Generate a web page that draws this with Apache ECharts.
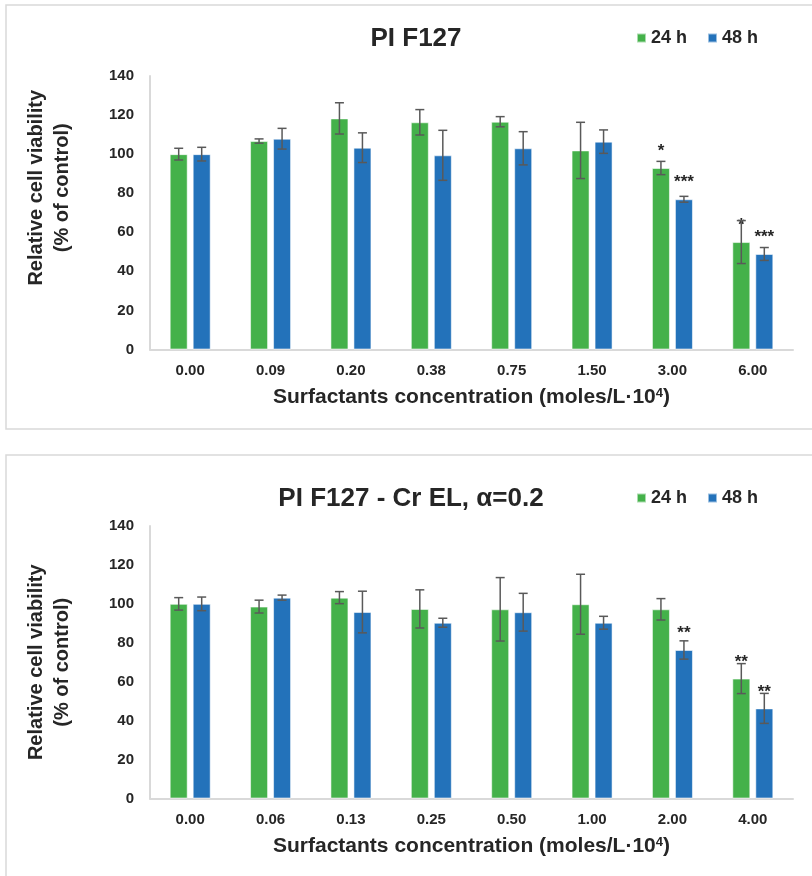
<!DOCTYPE html>
<html>
<head>
<meta charset="utf-8">
<script src="https://cdn.jsdelivr.net/npm/echarts@6/dist/echarts.min.js"></script>
<style>
  html, body { margin: 0; padding: 0; background: #fff; }
  #chart { width: 812px; height: 876px; }
</style>
</head>
<body>
<div id="chart"></div>
<script>
// top panel: PI F127
const conc1 = ['0.00', '0.09', '0.20', '0.38', '0.75', '1.50', '3.00', '6.00'];
const top24 = [100, 106.7, 118.3, 116.3, 116.6, 101.9, 92.9, 55.0];
const top24Err = [3.0, 1.1, 8.0, 6.5, 2.6, 14.4, 3.4, 11.0];
const top48 = [100, 107.9, 103.3, 99.4, 103.0, 106.4, 76.9, 48.9];
const top48Err = [3.5, 5.3, 7.6, 12.8, 8.5, 6.0, 1.5, 3.3];
const topSig24 = ['', '', '', '', '', '', '*', '*'];
const topSig48 = ['', '', '', '', '', '', '***', '***'];

// bottom panel: PI F127 - Cr EL
const conc2 = ['0.00', '0.06', '0.13', '0.25', '0.50', '1.00', '2.00', '4.00'];
const bot24 = [100, 98.6, 103.2, 97.4, 97.2, 99.8, 97.2, 61.6];
const bot24Err = [3.2, 3.3, 3.1, 9.8, 16.3, 15.4, 5.5, 7.7];
const bot48 = [100, 103.2, 95.8, 90.3, 95.7, 90.3, 76.3, 46.3];
const bot48Err = [3.5, 1.3, 10.7, 2.3, 9.7, 3.3, 4.7, 7.7];
const botSig24 = ['', '', '', '', '', '', '', '**'];
const botSig48 = ['', '', '', '', '', '', '**', '**'];

const yTicks = [0, 20, 40, 60, 80, 100, 120, 140];

const FONT = '"Liberation Sans", Arial, sans-serif';
const TXT = '#262626';
const GREEN = '#44B14A';
const BLUE = '#2372BA';
const AXIS = '#d9d9d9';
const BAR_W = 18;
const BAR_GAP = 5;

function errData(vals, errs) {
  return vals.map((v, i) => [i, v, errs[i]]);
}

// error bar drawn at the bar's x (shift from the category centre)
function errRender(shift) {
  return function (params, api) {
    const i = api.value(0);
    const v = api.value(1);
    const e = api.value(2);
    const hi = api.coord([i, v + e]);
    const lo = api.coord([i, v - e]);
    const x = hi[0] + shift;
    const st = { stroke: '#595959', lineWidth: 1.5 };
    return {
      type: 'group',
      children: [
        { type: 'line', shape: { x1: x, y1: hi[1], x2: x, y2: lo[1] }, style: st },
        { type: 'line', shape: { x1: x - 4.5, y1: hi[1], x2: x + 4.5, y2: hi[1] }, style: st },
        { type: 'line', shape: { x1: x - 4.5, y1: lo[1], x2: x + 4.5, y2: lo[1] }, style: st }
      ]
    };
  };
}

function xAxisOf(gi, cats) {
  return {
    type: 'category',
    gridIndex: gi,
    data: cats,
    axisTick: { show: false },
    axisLine: { lineStyle: { color: AXIS, width: 2 } },
    axisLabel: { color: TXT, fontSize: 15, fontWeight: 'bold', fontFamily: FONT, margin: 14 },
    name: 'Surfactants concentration (moles/L·10{sup|4})',
    nameLocation: 'middle',
    nameGap: 37,
    nameTextStyle: {
      color: TXT, fontSize: 21, fontWeight: 'bold', fontFamily: FONT,
      rich: { sup: { fontSize: 13, fontWeight: 'bold', fontFamily: FONT, color: TXT, verticalAlign: 'top', padding: [0, 0, 8, 0] } }
    }
  };
}

function yAxisOf(gi, shiftUp) {
  return {
    type: 'value',
    gridIndex: gi,
    min: yTicks[0],
    max: yTicks[yTicks.length - 1],
    interval: yTicks[1] - yTicks[0],
    splitLine: { show: false },
    axisTick: { show: false },
    axisLine: { show: true, lineStyle: { color: AXIS, width: 2 } },
    axisLabel: { color: TXT, fontSize: 15, fontWeight: 'bold', fontFamily: FONT, margin: 16 },
    name: 'Relative cell viability\n(% of control)',
    nameLocation: 'middle',
    nameGap: 75,
    nameTextStyle: {
      color: TXT, fontSize: 20, fontWeight: 'bold', fontFamily: FONT, lineHeight: 26,
      align: 'center',
      padding: [0, 0, 0, shiftUp * 2]
    }
  };
}

function barSeries(name, gi, vals, sig, color) {
  return {
    name: name,
    type: 'bar',
    xAxisIndex: gi,
    yAxisIndex: gi,
    barWidth: BAR_W,
    barGap: (BAR_GAP / BAR_W * 100) + '%',
    data: vals,
    itemStyle: { color: color, borderColor: 'rgba(255,255,255,0.55)', borderWidth: 1 },
    label: {
      show: true,
      position: 'top',
      distance: 8,
      color: TXT,
      fontSize: 17,
      fontWeight: 'bold',
      fontFamily: FONT,
      formatter: p => sig[p.dataIndex]
    }
  };
}

function errSeries(gi, vals, errs, shift) {
  return {
    type: 'custom',
    xAxisIndex: gi,
    yAxisIndex: gi,
    data: errData(vals, errs),
    encode: { x: 0, y: 1 },
    renderItem: errRender(shift),
    z: 5,
    silent: true
  };
}

const half = (BAR_W + BAR_GAP) / 2;

const legendText = { color: TXT, fontSize: 18, fontWeight: 'bold', fontFamily: FONT };

const chart = echarts.init(document.getElementById('chart'));
chart.setOption({
  backgroundColor: '#fff',
  animation: false,
  graphic: [
    { type: 'rect', shape: { x: 6, y: 5, width: 830, height: 424 }, style: { fill: 'none', stroke: AXIS, lineWidth: 1.5 } },
    { type: 'rect', shape: { x: 6, y: 455, width: 830, height: 440 }, style: { fill: 'none', stroke: AXIS, lineWidth: 1.5 } }
  ],
  title: [
    { text: 'PI F127', left: 411, top: 21, textAlign: 'center',
      textStyle: { color: TXT, fontSize: 26, fontWeight: 'bold', fontFamily: FONT } },
    { text: 'PI F127 - Cr EL, α=0.2', left: 406, top: 481, textAlign: 'center',
      textStyle: { color: TXT, fontSize: 26, fontWeight: 'bold', fontFamily: FONT } }
  ],
  legend: [
    { data: ['24 h', '48 h'], left: 631, top: 24, icon: 'rect', itemWidth: 9, itemHeight: 9, itemGap: 20,
      textStyle: legendText },
    { data: ['24 h', '48 h'], left: 631, top: 484, icon: 'rect', itemWidth: 9, itemHeight: 9, itemGap: 20,
      textStyle: legendText }
  ],
  grid: [
    { left: 150, right: 19, top: 76, height: 273.5 },
    { left: 150, right: 19, top: 526, height: 272.5 }
  ],
  xAxis: [xAxisOf(0, conc1), xAxisOf(1, conc2)],
  yAxis: [yAxisOf(0, 25), yAxisOf(1, 0)],
  series: [
    barSeries('24 h', 0, top24, topSig24, GREEN),
    barSeries('48 h', 0, top48, topSig48, BLUE),
    errSeries(0, top24, top24Err, -half),
    errSeries(0, top48, top48Err, half),
    barSeries('24 h', 1, bot24, botSig24, GREEN),
    barSeries('48 h', 1, bot48, botSig48, BLUE),
    errSeries(1, bot24, bot24Err, -half),
    errSeries(1, bot48, bot48Err, half)
  ]
});
</script>
</body>
</html>
